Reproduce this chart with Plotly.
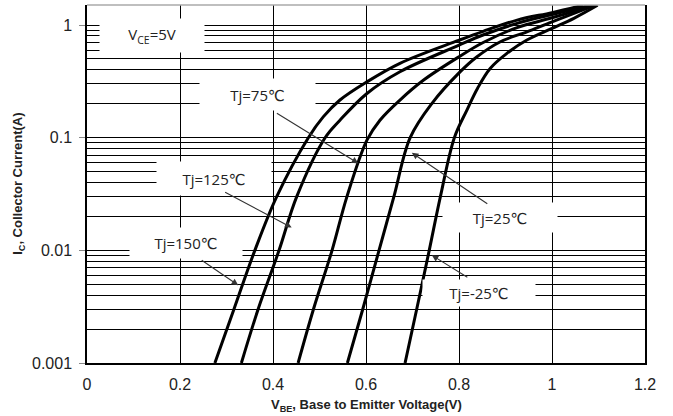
import plotly.graph_objects as go

# ---- data (VBE in V, IC in A) ----
v_150 = [0.275, 0.316, 0.361, 0.408, 0.476, 0.508, 0.544, 0.602, 0.673, 0.799, 0.852, 0.925, 1.0, 1.067]
i_150 = [0.001, 0.003, 0.01, 0.03, 0.1, 0.153, 0.216, 0.313, 0.457, 0.73, 0.88, 1.107, 1.29, 1.5]

v_125 = [0.332, 0.368, 0.413, 0.451, 0.512, 0.544, 0.602, 0.673, 0.799, 0.853, 0.925, 1.0, 1.082]
i_125 = [0.001, 0.003, 0.01, 0.03, 0.1, 0.143, 0.247, 0.385, 0.66, 0.82, 1.035, 1.24, 1.5]

v_75 = [0.454, 0.487, 0.527, 0.559, 0.602, 0.630, 0.673, 0.724, 0.799, 0.852, 0.925, 1.0, 1.089]
i_75 = [0.001, 0.003, 0.01, 0.03, 0.095, 0.143, 0.216, 0.325, 0.52, 0.70, 0.95, 1.16, 1.5]

v_25 = [0.560, 0.593, 0.628, 0.660, 0.695, 0.742, 0.799, 0.838, 0.889, 0.946, 1.0, 1.093]
i_25 = [0.001, 0.003, 0.01, 0.03, 0.1, 0.202, 0.372, 0.52, 0.711, 0.871, 1.069, 1.5]

v_m25 = [0.684, 0.709, 0.736, 0.760, 0.790, 0.817, 0.840, 0.867, 0.903, 0.946, 1.0, 1.047, 1.098]
i_m25 = [0.001, 0.003, 0.01, 0.03, 0.1, 0.176, 0.275, 0.412, 0.561, 0.736, 0.933, 1.148, 1.5]

series = [
    ("Tj=150℃", v_150, i_150),
    ("Tj=125℃", v_125, i_125),
    ("Tj=75℃", v_75, i_75),
    ("Tj=25℃", v_25, i_25),
    ("Tj=-25℃", v_m25, i_m25),
]

x_ticks = [0, 0.2, 0.4, 0.6, 0.8, 1.0, 1.2]
x_ticktext = ["0", "0.2", "0.4", "0.6", "0.8", "1", "1.2"]
y_ticks = [0.001, 0.01, 0.1, 1]
y_ticktext = ["0.001", "0.01", "0.1", "1"]
y_minor = [m * d for d in (0.001, 0.01, 0.1) for m in range(2, 10)]

fig = go.Figure()
for name, v, i in series:
    fig.add_trace(go.Scatter(
        x=v, y=i, mode="lines", name=name,
        line=dict(color="black", width=3, shape="spline", smoothing=1.0),
        showlegend=False, hoverinfo="skip",
    ))

label_font = dict(family="Open Sans, DejaVu Sans, sans-serif", size=15, color="#222222")

# label boxes: (text, x, log10 y, width, height)
labels = [
    ("V<sub>CE</sub>=5V", 0.1393, -0.09, 104, 33),
    ("Tj=75℃", 0.3665, -0.62, 115, 31),
    ("Tj=125℃", 0.2728, -1.363, 114, 33),
    ("Tj=150℃", 0.2125, -1.936, 112, 30),
    ("Tj=25℃", 0.8887, -1.710, 114, 29),
    ("Tj=-25℃", 0.8435, -2.380, 112, 26),
]
annotations = []
for text, x, ly, w, h in labels:
    annotations.append(dict(
        x=x, y=ly, xref="x", yref="y", text=text, showarrow=False,
        bgcolor="white", width=w, height=h, borderpad=0,
        font=label_font, xanchor="center", yanchor="middle",
    ))

# arrows: tip (x, log10 y) and tail offset in px
arrows = [
    (0.5836, -1.228, -83, -51),
    (0.4401, -1.797, -68, -36),
    (0.3252, -2.309, -38, -26),
    (0.6985, -1.134, 77, 52),
    (0.7416, -2.043, 37, 23),
]
for x, ly, ax, ay in arrows:
    annotations.append(dict(
        x=x, y=ly, xref="x", yref="y", text="", showarrow=True,
        ax=ax, ay=ay, arrowhead=2, arrowsize=1.2, arrowwidth=1.1,
        arrowcolor="#333333",
    ))

# axis titles
annotations.append(dict(
    x=0.5, y=-0.118, xref="paper", yref="paper", showarrow=False,
    text="<b>V<sub>BE</sub>, Base to Emitter Voltage(V)</b>",
    font=dict(family="Liberation Sans, Arial, sans-serif", size=13, color="#222222"),
    xanchor="center", yanchor="middle",
))
annotations.append(dict(
    x=-0.124, y=0.5, xref="paper", yref="paper", showarrow=False, textangle=-90,
    text="<b>I<sub>C</sub>, Collector Current(A)</b>",
    font=dict(family="Liberation Sans, Arial, sans-serif", size=13, color="#222222"),
    xanchor="center", yanchor="middle",
))

tick_font = dict(family="Liberation Sans, Arial, sans-serif", size=16, color="#222222")

fig.update_layout(
    width=673, height=416,
    margin=dict(l=87, r=28, t=5, b=53),
    paper_bgcolor="white", plot_bgcolor="white",
    annotations=annotations,
    shapes=[
        dict(type="line", xref="paper", yref="paper", x0=0, x1=1, y0=1, y1=1,
             line=dict(color="#aaaaaa", width=1.5)),
        dict(type="line", xref="paper", yref="y", x0=0, x1=1, y0=0, y1=0, layer="below",
             line=dict(color="#aaaaaa", width=1.5)),
    ],
    xaxis=dict(
        range=[0, 1.2], tickvals=x_ticks, ticktext=x_ticktext,
        showgrid=True, gridcolor="black", gridwidth=1, zeroline=False,
        showline=True, linecolor="black", linewidth=1.5, mirror=False,
        ticks="", tickfont=tick_font, ticklabelstandoff=6,
    ),
    yaxis=dict(
        type="log", range=[-3, 0.178], tickvals=y_ticks, ticktext=y_ticktext,
        showgrid=True, gridcolor="black", gridwidth=1, zeroline=False,
        showline=True, linecolor="black", linewidth=1.5, mirror=True,
        ticks="outside", ticklen=6, tickcolor="#888888", tickfont=tick_font,
        ticklabelstandoff=4,
        minor=dict(tickvals=y_minor, showgrid=True, gridcolor="black", gridwidth=1, ticks=""),
    ),
)

fig.write_html("out.html", config={"displayModeBar": False},
               post_script="document.body.style.margin='0';")
